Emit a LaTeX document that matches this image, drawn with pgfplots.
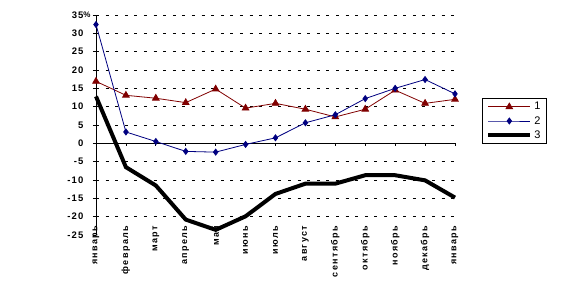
\documentclass[border=0pt]{standalone}
\usepackage{pgfplots}
\pgfplotsset{compat=1.18}
\usepackage{fontspec}
\setmainfont{Liberation Sans}
\definecolor{dred}{RGB}{128,0,0}
\definecolor{dblue}{RGB}{0,0,128}
\newcommand{\yfont}{\fontsize{9.5}{10}\selectfont\bfseries\addfontfeature{LetterSpace=12}}
\begin{document}
\begin{tikzpicture}
\begin{axis}[name=ax, at={(0,0)}, anchor=south west,
  scale only axis, width=359pt, height=220pt,
  xmin=0, xmax=12, ymin=-25, ymax=35,
  axis y line=left, axis x line=bottom,
  x axis line style={draw=none},
  y axis line style={-, black, line width=0.8pt},
  xtick={0,...,12},
  xticklabels={январь,февраль,март,апрель,май,июнь,июль,август,сентябрь,октябрь,ноябрь,декабрь,январь},
  xtick style={draw=none},
  xticklabel style={rotate=90, anchor=east, font=\fontsize{9}{10}\selectfont\bfseries\addfontfeature{LetterSpace=15}},
  xticklabel shift=-14pt,
  ytick={-20,-15,...,35},
  yticklabels={-20,-15,-10,-5,0,5,10,15,20,25,30,{35\rlap{\raisebox{1pt}{\fontsize{8}{9}\selectfont\%}}}},
  extra y ticks={-25},
  extra y tick labels={-25},
  extra y tick style={grid=none},
  ymajorgrids,
  major grid style={black, dash pattern=on 3pt off 6.6pt, line width=0.8pt},
  ytick align=outside, ytick style={black, line width=0.8pt}, major tick length=3pt,
  yticklabel style={font=\yfont, xshift=-6pt},
  legend style={at={(1.075,0.623)}, anchor=north west, draw=black, line width=0.8pt,
    font=\fontsize{11}{12}\selectfont, inner xsep=4pt, inner ysep=2pt, row sep=1pt},
  legend cell align=left,
  legend image code/.code={\draw[mark repeat=2,mark phase=2,#1] plot coordinates {(0pt,0pt) (21pt,0pt) (42pt,0pt)};},
  clip=false,
]
\draw[black, line width=0.8pt] (axis cs:0,0) -- (axis cs:12,0);
\pgfplotsinvokeforeach{0,...,12}{\draw[black, line width=0.8pt] (axis cs:#1,0) -- ++(0pt,-3pt);}
\addplot[dred, line width=0.8pt, mark=triangle*, mark size=3.8pt, mark options={solid}] coordinates {
(0,16.9) (1,13.1) (2,12.3) (3,11.1) (4,14.8) (5,9.6) (6,10.9) (7,9.3) (8,7.2) (9,9.3) (10,14.5) (11,10.9) (12,12.0)};
\addlegendentry{1}
\addplot[dblue, line width=0.8pt, mark=diamond*, mark size=3pt] coordinates {
(0,32.4) (1,3.1) (2,0.5) (3,-2.2) (4,-2.4) (5,-0.3) (6,1.5) (7,5.6) (8,7.8) (9,12.2) (10,15.0) (11,17.4) (12,13.5)};
\addlegendentry{2}
\addplot[black, line width=4pt, no marks] coordinates {
(0,12.8) (1,-6.5) (2,-11.5) (3,-20.8) (4,-23.6) (5,-19.9) (6,-13.8) (7,-11.0) (8,-11.0) (9,-8.7) (10,-8.7) (11,-10.1) (12,-14.8)};
\addlegendentry{3}
\end{axis}
\pgfresetboundingbox
\path ([shift={(-96pt,-72pt)}]ax.south west) rectangle ([shift={(467pt,235pt)}]ax.south west);
\end{tikzpicture}
\end{document}
